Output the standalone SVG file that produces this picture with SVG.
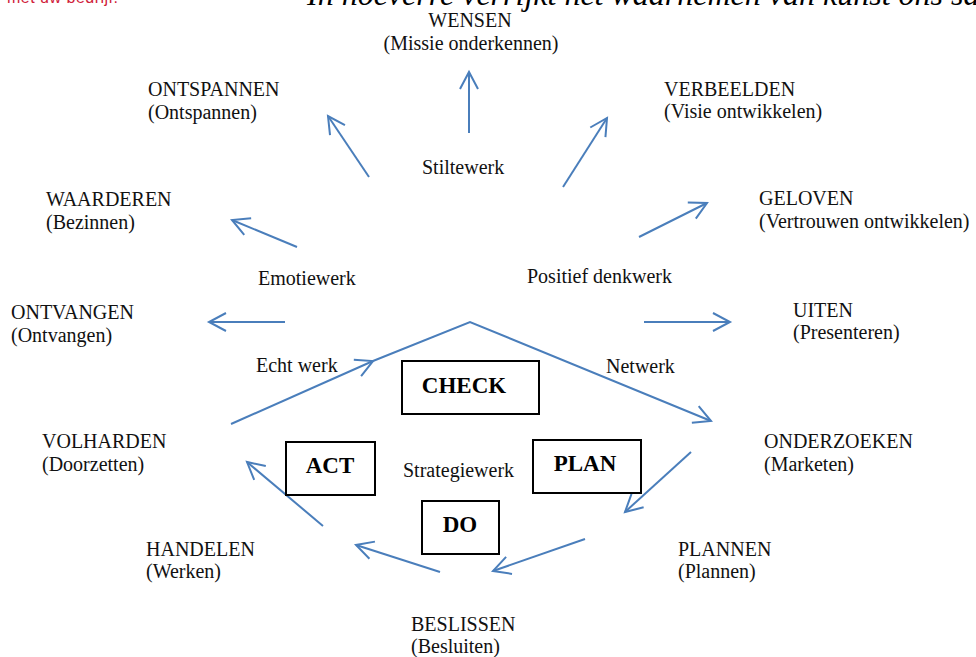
<svg xmlns="http://www.w3.org/2000/svg" width="976" height="657" viewBox="0 0 976 657">
<defs>
<style>
.t{font-family:"Liberation Serif","Times New Roman",serif;font-size:20px;fill:#111}
.b{font-family:"Liberation Serif","Times New Roman",serif;font-size:23px;font-weight:bold;fill:#000;text-anchor:middle}
.box{fill:#fff;stroke:#000;stroke-width:2}
.c{fill:none;stroke:#4a7ebb;stroke-width:2;marker-end:url(#ah)}
</style>
<marker id="ah" markerUnits="userSpaceOnUse" markerWidth="40" markerHeight="40" viewBox="-20 -20 40 40" refX="0" refY="0" orient="auto">
<path d="M-17,-9 L0,0 L-17,9" fill="none" stroke="#4a7ebb" stroke-width="2"/>
</marker>
</defs>
<rect width="976" height="657" fill="#fff"/>
<text x="7" y="3" font-family="'Liberation Sans',Arial,sans-serif" font-size="16" fill="#d0213a" textLength="111">met uw bedrijf.</text>
<text x="307" y="5" font-family="'Liberation Serif','Times New Roman',serif" font-size="32" font-style="italic" fill="#000">In hoeverre verrijkt het waarnemen van kunst ons sa</text>

<g id="connectors">
<path class="c" d="M469,133 L469,72"/>
<path class="c" d="M369,177 L328,116"/>
<path class="c" d="M297,247 L232,220"/>
<path class="c" d="M285,322 L209,322"/>
<path class="c" d="M563,187 L607,118"/>
<path class="c" d="M639,237 L707,203"/>
<path class="c" d="M644,322 L730,322"/>
<path class="c" d="M231,424 L373,361"/>
<path class="c" d="M373,361 L470,322 L711,421"/>
<path class="c" d="M691,452 L625,512"/>
<path class="c" d="M585,539 L493,571"/>
<path class="c" d="M440,572 L356,545"/>
<path class="c" d="M323,526 L247,462"/>
</g>

<g id="labels">
<text class="t" x="422" y="174">Stiltewerk</text>
<text class="t" x="258" y="285">Emotiewerk</text>
<text class="t" x="527" y="283">Positief denkwerk</text>
<text class="t" x="256" y="372">Echt werk</text>
<text class="t" x="606" y="373">Netwerk</text>
<text class="t" x="403" y="477">Strategiewerk</text>
</g>

<g id="check"><rect class="box" x="402" y="361" width="137" height="53"/><text class="b" x="464" y="393">CHECK</text></g>
<g id="act"><rect class="box" x="286" y="442" width="89" height="53"/><text class="b" x="330" y="473">ACT</text></g>
<g id="plan"><rect class="box" x="533" y="440" width="108" height="53"/><text class="b" x="585" y="471">PLAN</text></g>
<g id="do"><rect class="box" x="422" y="501" width="77" height="53"/><text class="b" x="460" y="532">DO</text></g>

<g id="wensen"><text class="t" x="470" y="27" text-anchor="middle">WENSEN</text><text class="t" x="471" y="50" text-anchor="middle">(Missie onderkennen)</text></g>
<g id="ontspannen"><text class="t" x="148" y="96">ONTSPANNEN</text><text class="t" x="148" y="119">(Ontspannen)</text></g>
<g id="waarderen"><text class="t" x="46" y="206">WAARDEREN</text><text class="t" x="46" y="229">(Bezinnen)</text></g>
<g id="ontvangen"><text class="t" x="11" y="319">ONTVANGEN</text><text class="t" x="11" y="342">(Ontvangen)</text></g>
<g id="volharden"><text class="t" x="42" y="448">VOLHARDEN</text><text class="t" x="42" y="471">(Doorzetten)</text></g>
<g id="handelen"><text class="t" x="146" y="556">HANDELEN</text><text class="t" x="146" y="578">(Werken)</text></g>
<g id="beslissen"><text class="t" x="411" y="631">BESLISSEN</text><text class="t" x="411" y="653">(Besluiten)</text></g>
<g id="plannen"><text class="t" x="678" y="556">PLANNEN</text><text class="t" x="678" y="578">(Plannen)</text></g>
<g id="onderzoeken"><text class="t" x="764" y="448">ONDERZOEKEN</text><text class="t" x="764" y="471">(Marketen)</text></g>
<g id="uiten"><text class="t" x="793" y="317">UITEN</text><text class="t" x="793" y="339">(Presenteren)</text></g>
<g id="geloven"><text class="t" x="759" y="205">GELOVEN</text><text class="t" x="759" y="228">(Vertrouwen ontwikkelen)</text></g>
<g id="verbeelden"><text class="t" x="664" y="96">VERBEELDEN</text><text class="t" x="664" y="118">(Visie ontwikkelen)</text></g>
</svg>
